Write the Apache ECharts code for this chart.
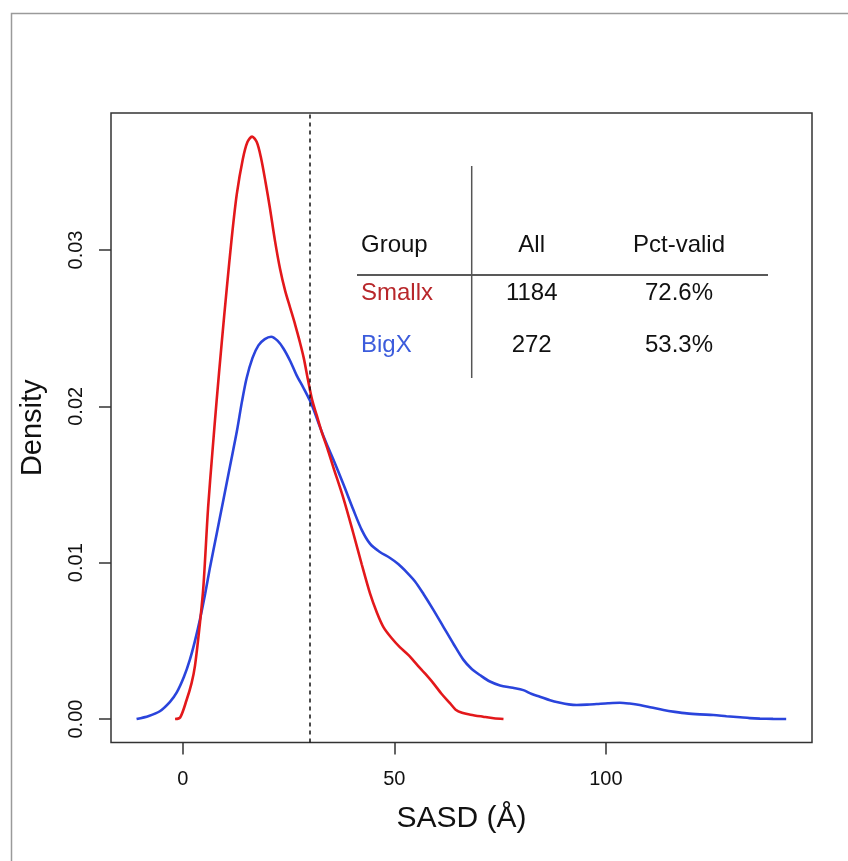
<!DOCTYPE html>
<html>
<head>
<meta charset="utf-8">
<script src="https://cdn.jsdelivr.net/npm/echarts@6/dist/echarts.min.js"></script>
<style>
html,body{margin:0;padding:0;background:#fff;}
#chart{width:848px;height:861px;}
</style>
</head>
<body>
<div id="chart"></div>
<script>
// Density curve of Smallx (x = SASD in Å, y = density)
var smallxCurve = [
  [-1.8,0],[-0.6,0.0001],[0.9,0.0012],[2.1,0.0023],[2.9,0.0034],[4.1,0.0062],[4.9,0.0085],
  [6,0.0135],[7,0.0170],[8,0.0203],[9.2,0.0240],[10.4,0.0275],[11.6,0.0308],[12.8,0.0336],
  [14.2,0.0358],[15.3,0.0369],[16.4,0.03725],[17.5,0.0369],[18.5,0.0359],[19.6,0.0343],
  [20.6,0.0327],[21.8,0.0306],[23,0.0288],[24.2,0.0274],[25.4,0.0263],[26.6,0.0252],
  [27.6,0.0242],[28.6,0.0231],[29.6,0.0217],[30.6,0.0204],[31.7,0.0194],[32.8,0.0184],
  [34.2,0.0173],[35.6,0.0161],[38,0.0141],[40.3,0.0119],[42.3,0.0099],[44.3,0.0080],
  [45.9,0.0068],[47.4,0.0059],[49.3,0.0052],[51.3,0.0046],[53.3,0.0041],[55.3,0.0035],
  [57.3,0.0029],[59.2,0.0023],[61.2,0.0016],[63.2,0.0010],[64.5,0.0006],[66,0.0004],
  [68,0.00028],[71,0.00015],[73.5,0.00005],[75.8,0]
];
// Density curve of BigX
var bigxCurve = [
  [-10.9,0],[-8,0.0002],[-5.4,0.0005],[-3,0.0011],[-1.4,0.0017],[0.3,0.0027],[1.7,0.0038],
  [2.9,0.0050],[4.1,0.0064],[5.3,0.0080],[6.45,0.0097],[8,0.0118],[9.6,0.0140],[11.2,0.0162],
  [12.8,0.0184],[14,0.0203],[15.1,0.0218],[16.5,0.0231],[17.9,0.0239],[19.4,0.0243],
  [20.9,0.02445],[22.4,0.0242],[23.8,0.0237],[25.4,0.0229],[26.9,0.0220],[28.5,0.0212],
  [30,0.0204],[31.2,0.0196],[32.4,0.0187],[34,0.0176],[35.6,0.0166],[38,0.0150],[40.3,0.0134],
  [42.3,0.0121],[44.3,0.0112],[46.5,0.0107],[49,0.0103],[51,0.0099],[52.9,0.0094],[54.9,0.0088],
  [56.9,0.0080],[59.2,0.0070],[61.6,0.0059],[64,0.0048],[66.3,0.0038],[68.3,0.0032],
  [70.3,0.0028],[72.6,0.0024],[75,0.00215],[78,0.0020],[80.5,0.00185],[82.5,0.0016],
  [84.4,0.00143],[86.8,0.0012],[89.2,0.00104],[91.2,0.00094],[93.1,0.0009],[95.5,0.00092],
  [97.8,0.00096],[100.5,0.00101],[103.3,0.00104],[105.6,0.00099],[108,0.0009],[110.8,0.00074],
  [113.6,0.00058],[116.3,0.00046],[119.1,0.00036],[122.2,0.0003],[125.4,0.00026],[128.5,0.00018],
  [131.7,0.00011],[134,0.00006],[136.4,0.00003],[139.5,0.00001],[142.6,0]
];
var cutoff = 30;
var xTicks = [0, 50, 100];
var yTicks = [0, 0.01, 0.02, 0.03];
// Inset table
var tableHeader = ['Group', 'All', 'Pct-valid'];
var groupNames = ['Smallx', 'BigX'];
var groupCounts = ['1184', '272'];
var groupPcts = ['72.6%', '53.3%'];

var FONT = '"Liberation Sans", Arial, Helvetica, sans-serif';
var RED = '#e3181b', BLUE = '#2a44dc';
var nameColors = ['#b8272b', '#3c5cdc'];

var chart = echarts.init(document.getElementById('chart'), null, {renderer: 'canvas'});

var gridL = 111, gridT = 113, gridW = 701, gridH = 629.5;

// table graphic
var colX = [361, 531.7, 679];
var rowY = [245.5, 293.5, 345];
var tableGraphic = [];
tableHeader.forEach(function (t, i) {
  tableGraphic.push({type: 'text', x: colX[i], y: rowY[0], silent: true,
    style: {text: t, font: '24px ' + FONT, fill: '#111', align: i === 0 ? 'left' : 'center', verticalAlign: 'middle'}});
});
groupNames.forEach(function (g, r) {
  tableGraphic.push({type: 'text', x: colX[0], y: rowY[r + 1], silent: true,
    style: {text: g, font: '24px ' + FONT, fill: nameColors[r], align: 'left', verticalAlign: 'middle'}});
  tableGraphic.push({type: 'text', x: colX[1], y: rowY[r + 1], silent: true,
    style: {text: groupCounts[r], font: '24px ' + FONT, fill: '#111', align: 'center', verticalAlign: 'middle'}});
  tableGraphic.push({type: 'text', x: colX[2], y: rowY[r + 1], silent: true,
    style: {text: groupPcts[r], font: '24px ' + FONT, fill: '#111', align: 'center', verticalAlign: 'middle'}});
});
tableGraphic.push({type: 'line', silent: true, shape: {x1: 357, y1: 275, x2: 768, y2: 275},
  style: {stroke: '#222', lineWidth: 1.5}});
tableGraphic.push({type: 'line', silent: true, shape: {x1: 471.7, y1: 166, x2: 471.7, y2: 378},
  style: {stroke: '#555', lineWidth: 1.5}});
// outer frame (top & left edges)
tableGraphic.push({type: 'polyline', silent: true, shape: {points: [[11.5, 861], [11.5, 13.5], [848, 13.5]]},
  style: {stroke: '#9a9a9a', lineWidth: 1.5, fill: null}});

var option = {
  animation: false,
  backgroundColor: '#fff',
  textStyle: {fontFamily: FONT},
  grid: {left: gridL, top: gridT, width: gridW, height: gridH, show: true,
    borderColor: '#333', borderWidth: 1.5, backgroundColor: 'transparent', containLabel: false},
  xAxis: {
    type: 'value', min: -16.94, max: 148.7,
    name: 'SASD (Å)', nameLocation: 'middle', nameGap: 61,
    nameTextStyle: {fontSize: 30, color: '#111', fontFamily: FONT},
    axisLine: {show: false, onZero: false},
    splitLine: {show: false},
    axisTick: {show: true, inside: false, length: 12, customValues: xTicks,
      lineStyle: {color: '#333', width: 1.5}},
    axisLabel: {show: true, customValues: xTicks, margin: 27, fontSize: 20, color: '#111', fontFamily: FONT}
  },
  yAxis: {
    type: 'value', min: -0.0015, max: 0.03876,
    name: 'Density', nameLocation: 'middle', nameGap: 64,
    nameTextStyle: {fontSize: 29, color: '#111', fontFamily: FONT, align: 'center', verticalAlign: 'bottom'},
    axisLine: {show: false, onZero: false},
    splitLine: {show: false},
    axisTick: {show: true, inside: false, length: 12, customValues: yTicks,
      lineStyle: {color: '#333', width: 1.5}},
    axisLabel: {show: true, customValues: yTicks, rotate: 90, margin: 25, fontSize: 20, color: '#111',
      fontFamily: FONT, align: 'center', verticalAlign: 'bottom',
      formatter: function (v) { return v.toFixed(2); }}
  },
  graphic: tableGraphic,
  series: [
    {
      name: 'BigX', type: 'line', data: bigxCurve, smooth: 0.3, showSymbol: false, silent: true,
      lineStyle: {color: BLUE, width: 2.6}, z: 3
    },
    {
      name: 'Smallx', type: 'line', data: smallxCurve, smooth: 0.3, showSymbol: false, silent: true,
      lineStyle: {color: RED, width: 2.6}, z: 4,
      markLine: {
        silent: true, symbol: ['none', 'none'], label: {show: false},
        lineStyle: {color: '#111', type: [4, 4], width: 1.5},
        data: [{xAxis: cutoff}]
      }
    }
  ]
};
chart.setOption(option);
</script>
</body>
</html>
